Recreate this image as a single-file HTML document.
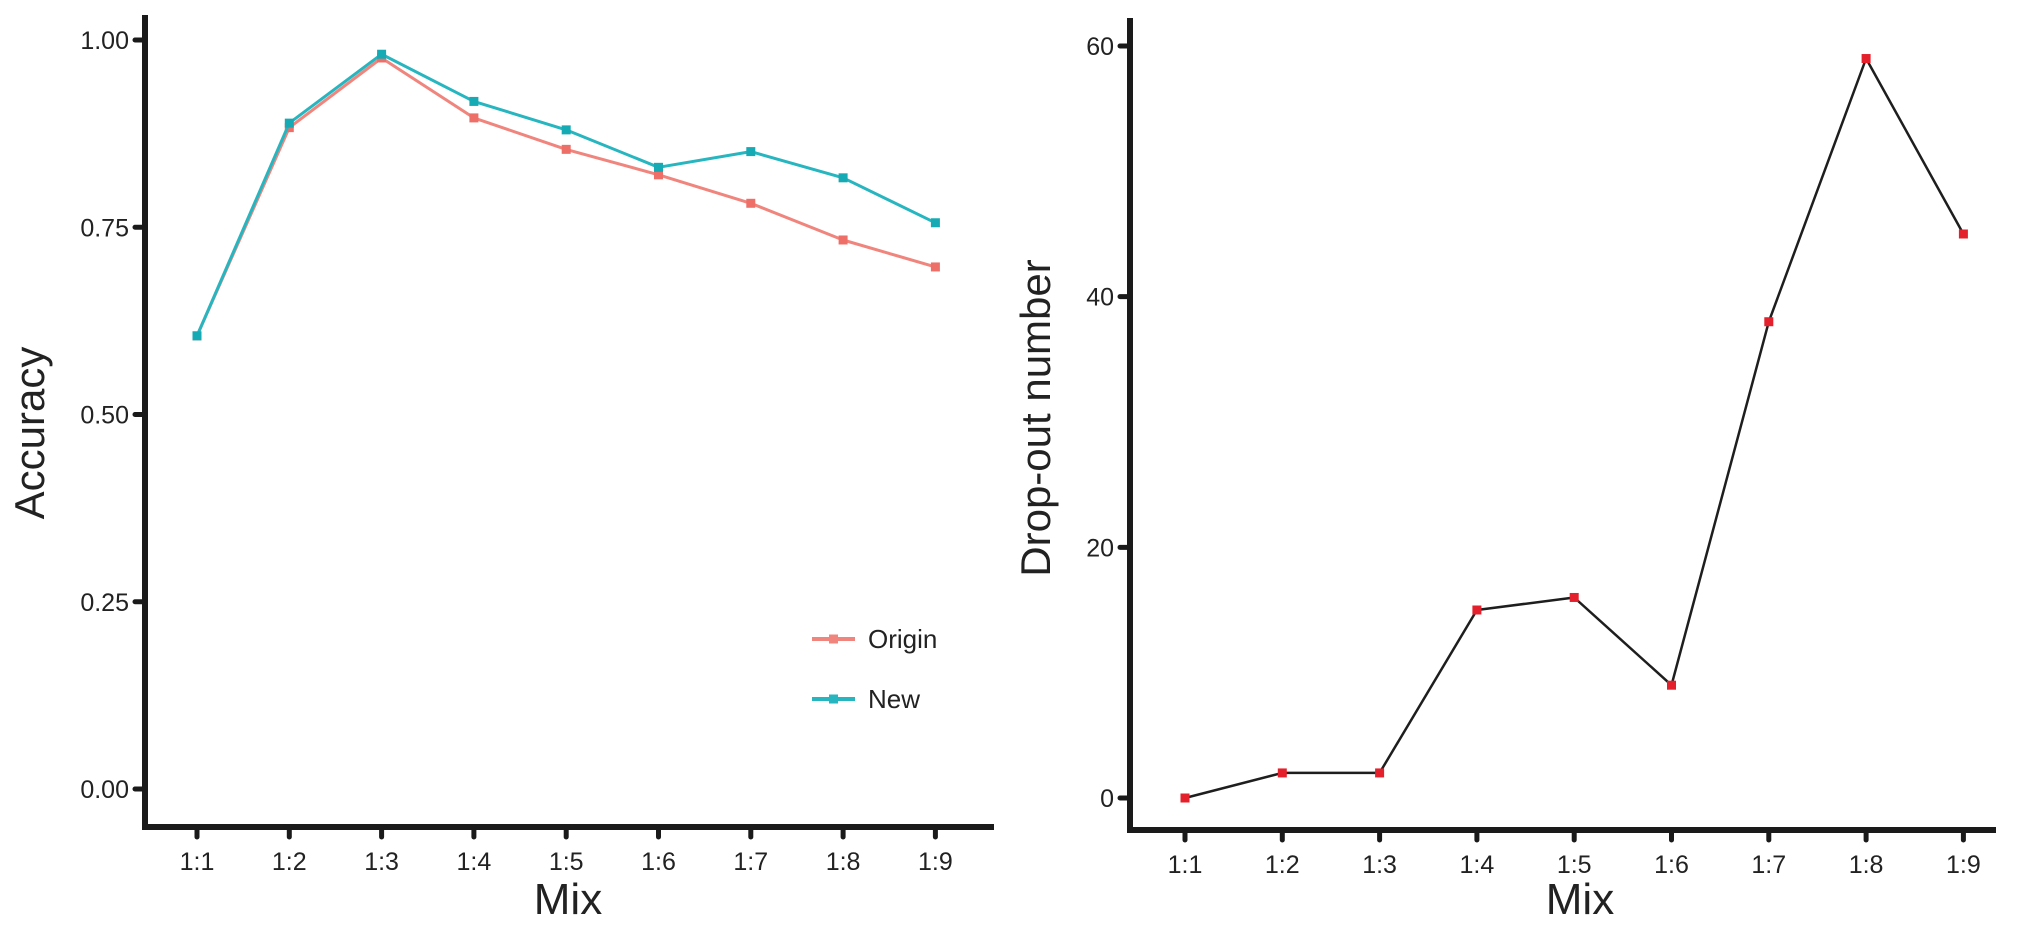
<!DOCTYPE html>
<html><head><meta charset="utf-8"><style>
html,body{margin:0;padding:0;background:#fff;}
svg text{font-family:"Liberation Sans",Arial,sans-serif;fill:#222;}
</style></head><body>
<svg width="2031" height="928" viewBox="0 0 2031 928" xmlns="http://www.w3.org/2000/svg">
<g id="left"></g>
<g id="right"></g>
</svg>
<script>
const categories = ["1:1","1:2","1:3","1:4","1:5","1:6","1:7","1:8","1:9"];
const originValues = [0.605,0.883,0.976,0.896,0.854,0.820,0.782,0.733,0.697];
const newValues = [0.605,0.889,0.981,0.918,0.880,0.830,0.851,0.816,0.756];
const accTicks = [0,0.25,0.5,0.75,1.0];
const accTickLabels = ["0.00","0.25","0.50","0.75","1.00"];
const dropValues = [0,2,2,15,16,9,38,59,45];
const dropTicks = [0,20,40,60];
const dropTickLabels = ["0","20","40","60"];

const NS="http://www.w3.org/2000/svg";
function mk(parent,tag,attrs,text){const e=document.createElementNS(NS,tag);for(const k in attrs)e.setAttribute(k,attrs[k]);if(text!==undefined)e.textContent=text;parent.appendChild(e);return e;}

// Left chart axes
const L=document.getElementById('left');
const lx=i=>197+i*92.3;
const ly=v=>789-v*(789-40)/1.0;
// Right chart axes
const R=document.getElementById('right');
const rx=i=>1185+i*97.3;
const ry=v=>798-v*(798-46)/60;

function drawAxes(g,axX,axTop,axY,axRight,ticksY,tickLabels,yf,xf,title,titleX,titleY,mixX){
  let e;
  e=mk(g,'line',{x1:axX,y1:axTop,x2:axX,y2:axY+3,stroke:'#1a1a1a','stroke-width':6});
  
  
  e=mk(g,'line',{x1:axX-3,y1:axY,x2:axRight,y2:axY,stroke:'#1a1a1a','stroke-width':6});
  
  
  ticksY.forEach((t,i)=>{
    const y=yf(t);
    e=mk(g,'line',{x1:axX-10,y1:y,x2:axX,y2:y,stroke:'#1a1a1a','stroke-width':5,'stroke-linecap':'round'});
    
    
    e=mk(g,'text',{x:axX-16,y:y+9,'text-anchor':'end','font-size':25},tickLabels[i]);
    
    
  });
  categories.forEach((c,i)=>{
    const x=xf(i);
    e=mk(g,'line',{x1:x,y1:axY,x2:x,y2:axY+10,stroke:'#1a1a1a','stroke-width':5,'stroke-linecap':'round'});
    
    
    e=mk(g,'text',{x:x,y:axY+43,'text-anchor':'middle','font-size':25},c);
    
    
  });
  e=mk(g,'text',{x:mixX,y:914,'text-anchor':'middle','font-size':44},'Mix');
  
  
  e=mk(g,'text',{x:0,y:0,'text-anchor':'middle','font-size':42,transform:`translate(${titleX},${titleY}) rotate(-90)`},title);
  
  
}
drawAxes(L,145,15,827,994,accTicks,accTickLabels,ly,lx,'Accuracy',44,433,568);
drawAxes(R,1130,18,830,1996,dropTicks,dropTickLabels,ry,rx,'Drop-out number',1050,418,1580);

function series(g,vals,xf,yf,color,mcolor,w,name){
  const pts=vals.map((v,i)=>xf(i).toFixed(1)+','+yf(v).toFixed(1)).join(' ');
  let e=mk(g,'polyline',{points:pts,fill:'none',stroke:color,'stroke-width':w,'stroke-linejoin':'round'});
  
  
  vals.forEach((v,i)=>{
    e=mk(g,'rect',{x:xf(i)-4.5,y:yf(v)-4.5,width:9,height:9,fill:mcolor});
    
    
  });
}
series(L,originValues,lx,ly,'#F0857D','#EE6F68',3,'origin');
series(L,newValues,lx,ly,'#27B6BF','#16AAB4',3,'new');
series(R,dropValues,rx,ry,'#1e1e1e','#E3202B',2.5,'dropout');

// legend
const leg=mk(L,'g',{});


[['Origin','#F0857D',639],['New','#27B6BF',699]].forEach(([lab,col,y])=>{
  let e=mk(leg,'line',{x1:812,y1:y,x2:855,y2:y,stroke:col,'stroke-width':4});
  
  
  mk(leg,'rect',{x:829,y:y-4.5,width:9,height:9,fill:col});
  e=mk(leg,'text',{x:868,y:y+9,'font-size':26},lab);
  
  
});
</script>
</body></html>
